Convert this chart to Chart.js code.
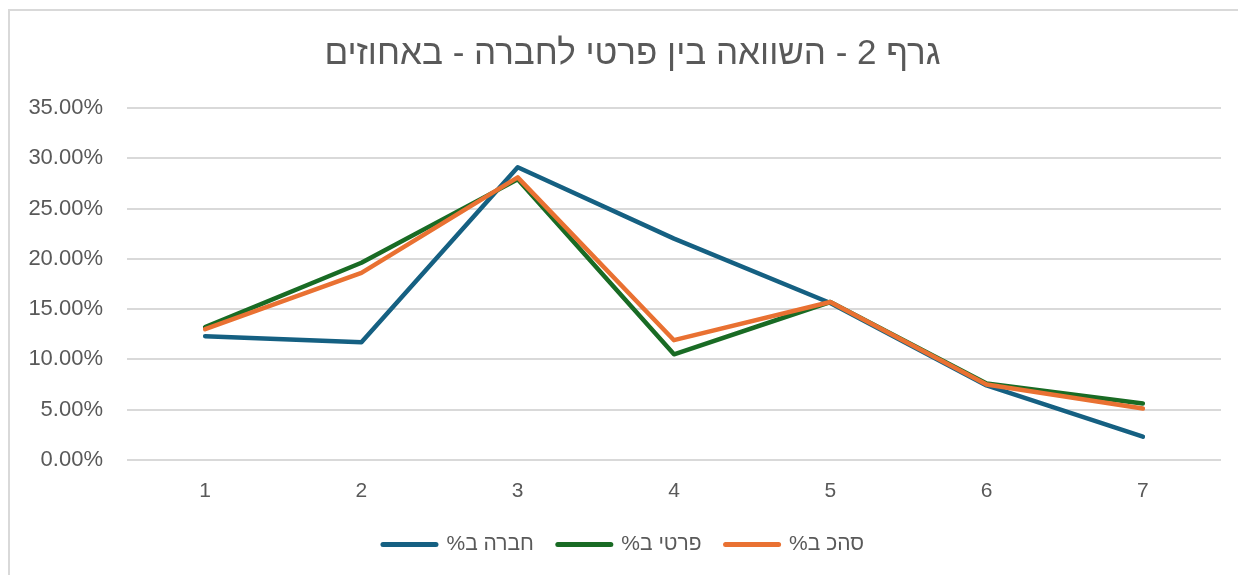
<!DOCTYPE html>
<html>
<head>
<meta charset="utf-8">
<script src="https://cdn.jsdelivr.net/npm/chart.js@4"></script>
<style>
  html, body { margin: 0; padding: 0; background: #fff; overflow: hidden; }
  #frame { position: absolute; left: 8px; top: 9px; width: 1300px; height: 600px;
           border-left: 2px solid #d9d9d9; border-top: 2px solid #d9d9d9; }
  #wrap { position: absolute; left: 0; top: 0; width: 1238px; height: 575px; }
</style>
</head>
<body>
<div id="frame"></div>
<div id="wrap"><canvas id="chart"></canvas></div>
<script>
// data (percent)
const categories = ['1', '2', '3', '4', '5', '6', '7'];
const company = [12.3, 11.7, 29.1, 22.0, 15.6, 7.4, 2.3];
const privateP = [13.2, 19.6, 27.9, 10.5, 15.7, 7.6, 5.6];
const total = [13.0, 18.6, 28.1, 11.9, 15.7, 7.5, 5.1];
const seriesNames = ['חברה ב%', 'פרטי ב%', 'סהכ ב%'];
const titleText = 'גרף 2 - השוואה בין פרטי לחברה - באחוזים';

const colors = ['#156082', '#196B24', '#E97132'];
const fontFamily = "'Liberation Sans', Arial, sans-serif";
const textColor = '#595959';

function makeSet(label, data, color, order) {
    return {
        label: label,
        data: data,
        borderColor: color,
        backgroundColor: color,
        borderWidth: 4.5,
        borderCapStyle: 'round',
        borderJoinStyle: 'round',
        pointRadius: 0,
        tension: 0,
        order: order
    };
}

// nudge legend and title to where the original puts them
const nudge = {
    id: 'nudge',
    beforeLayout(chart) {
        const lg = chart.legend;
        if (lg && !lg._nudged) {
            const fit = lg.fit.bind(lg);
            lg.fit = () => { fit(); lg.height -= 3; };
            lg._nudged = true;
        }
    },
    afterLayout(chart) {
        const lg = chart.legend;
        lg.top -= 13; lg.bottom -= 13;
        lg.left += 13; lg.right += 13;
        const t = chart.titleBlock;
        t.left += 22; t.right += 22;
    }
};

const ctx = document.getElementById('chart').getContext('2d');
new Chart(ctx, {
    type: 'line',
    data: {
        labels: categories,
        datasets: [
            makeSet(seriesNames[0], company, colors[0], 3),
            makeSet(seriesNames[1], privateP, colors[1], 2),
            makeSet(seriesNames[2], total, colors[2], 1)
        ]
    },
    plugins: [nudge],
    options: {
        responsive: true,
        maintainAspectRatio: false,
        animation: false,
        layout: { padding: { left: 0, right: 17, top: 0, bottom: 0 } },
        plugins: {
            title: {
                display: true,
                text: titleText,
                color: textColor,
                font: { family: fontFamily, size: 35, weight: 'normal' },
                padding: { top: 33, bottom: 33 }
            },
            legend: {
                position: 'bottom',
                textDirection: 'rtl',
                labels: {
                    color: textColor,
                    font: { family: fontFamily, size: 21 },
                    usePointStyle: true,
                    pointStyle: 'line',
                    pointStyleWidth: 53,
                    padding: 24,
                    sort: (a, b) => a.datasetIndex - b.datasetIndex,
                    generateLabels: (chart) =>
                        Chart.defaults.plugins.legend.labels.generateLabels(chart).map(l => {
                            l.lineCap = 'round';
                            l.lineWidth = 5;
                            l.pointStyle = 'line';
                            return l;
                        })
                }
            },
            tooltip: { enabled: false }
        },
        scales: {
            x: {
                offset: true,
                grid: { display: false, drawTicks: false },
                border: { display: false },
                ticks: {
                    color: textColor,
                    font: { family: fontFamily, size: 21 },
                    padding: 19
                }
            },
            y: {
                min: 0,
                max: 35,
                grid: { color: '#d9d9d9', lineWidth: 2, drawTicks: false },
                border: { display: false },
                ticks: {
                    stepSize: 5,
                    color: textColor,
                    font: { family: fontFamily, size: 22 },
                    padding: 24,
                    callback: v => v.toFixed(2) + '%'
                },
                afterFit: scale => { scale.width = 127; }
            }
        }
    }
});
</script>
</body>
</html>
